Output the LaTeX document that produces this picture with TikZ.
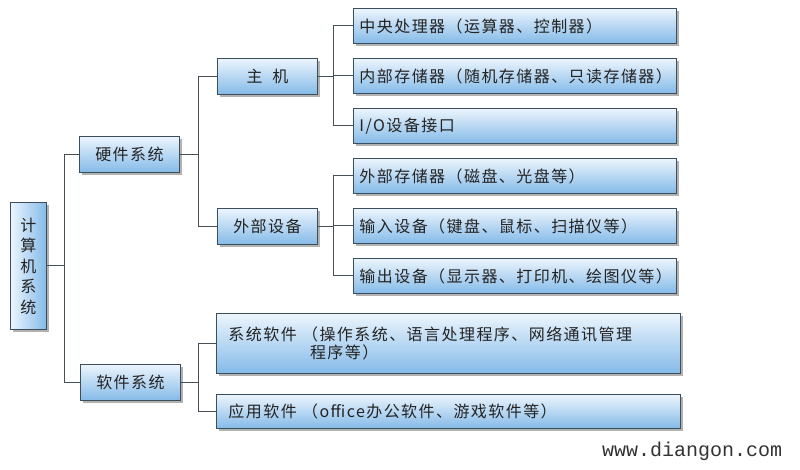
\documentclass[tikz,border=0pt]{standalone}
\usepackage{fontspec}
\setmainfont[LetterSpace=9]{Noto Sans CJK SC}
\newfontfamily\wmfont{Liberation Mono}
\usetikzlibrary{shadows}
\definecolor{boxtop}{RGB}{236,245,253}
\definecolor{boxbot}{RGB}{132,186,232}
\definecolor{boxline}{RGB}{60,78,92}
\definecolor{conn}{RGB}{70,78,86}
\definecolor{txt}{RGB}{35,35,35}
\tikzset{
  x=1pt, y=-1pt,
  base/.style={draw=boxline, line width=0.9pt, text=txt, font=\fontsize{16}{18}\selectfont,
    drop shadow={shadow xshift=2.5pt, shadow yshift=-3pt, opacity=0.5, fill=black!60},
    inner sep=0pt, anchor=north west},
  midbox/.style={base, top color=boxtop, bottom color=boxbot, minimum width=100pt, minimum height=36pt},
  leafbox/.style={base, top color=boxtop, bottom color=boxbot, minimum width=323pt, minimum height=35pt,
    text width=311pt, align=left, inner xsep=6pt},
  rootbox/.style={base, left color=boxtop, right color=boxbot, minimum width=36pt, minimum height=127pt,
    align=center, font=\fontsize{16}{20.5}\selectfont},
  wire/.style={draw=conn, line width=0.9pt}
}
\begin{document}
\begin{tikzpicture}
\useasboundingbox (0,0) rectangle (800,470);
% nodes
\node[rootbox] (root) at (10,202) {计\\算\\机\\系\\统};
\node[midbox] (hw) at (79,136) {硬件系统};
\node[midbox] (sw) at (80,364) {软件系统};
\node[midbox] (host) at (217,58) {主\hspace{0.6em}机};
\node[midbox] (ext) at (217,208) {外部设备};
\node[leafbox] (cpu) at (353,8) {中央处理器（运算器、控制器）};
\node[leafbox] (mem) at (353,58) {内部存储器（随机存储器、只读存储器）};
\node[leafbox] (io) at (353,108) {I/O设备接口};
\node[leafbox] (xmem) at (353,158) {外部存储器（磁盘、光盘等）};
\node[leafbox] (inp) at (353,208) {输入设备（键盘、鼠标、扫描仪等）};
\node[leafbox] (outp) at (353,258) {输出设备（显示器、打印机、绘图仪等）};
\node[base, top color=boxtop, bottom color=boxbot, minimum width=460pt, minimum height=60pt,
  text width=440pt, align=left, inner xsep=12pt] (syssw) at (216,313)
  {系统软件 （操作系统、语言处理程序、网络通讯管理\\\hspace{5.1em}程序等）};
\node[base, top color=boxtop, bottom color=boxbot, minimum width=460pt, minimum height=34pt,
  text width=440pt, align=left, inner xsep=12pt] (appsw) at (216,394)
  {应用软件 （office办公软件、游戏软件等）};
\node[anchor=west, inner sep=0pt, font=\wmfont\fontsize{20}{22}\selectfont, text=black!80] (wm) at (602,451) {www.diangon.com};
% bus coordinates
\coordinate (b1) at (64,0);
\coordinate (b2) at (198,0);
\coordinate (b3) at (333,0);
% connectors
\draw[wire] (root.east) -- (root.east -| b1);
\draw[wire] (hw.west) -| (b1 |- sw.west) -- (sw.west);
\draw[wire] (hw.east) -- (hw.east -| b2);
\draw[wire] (host.west) -| (b2 |- ext.west) -- (ext.west);
\draw[wire] (host.east) -- (host.east -| b3);
\draw[wire] (cpu.west) -| (b3 |- io.west) -- (io.west);
\draw[wire] (mem.west) -- (mem.west -| b3);
\draw[wire] (ext.east) -- (ext.east -| b3);
\draw[wire] (xmem.west) -| (b3 |- outp.west) -- (outp.west);
\draw[wire] (inp.west) -- (inp.west -| b3);
\draw[wire] (sw.east) -- (sw.east -| b2);
\draw[wire] (syssw.west) -| (b2 |- appsw.west) -- (appsw.west);
\end{tikzpicture}
\end{document}
